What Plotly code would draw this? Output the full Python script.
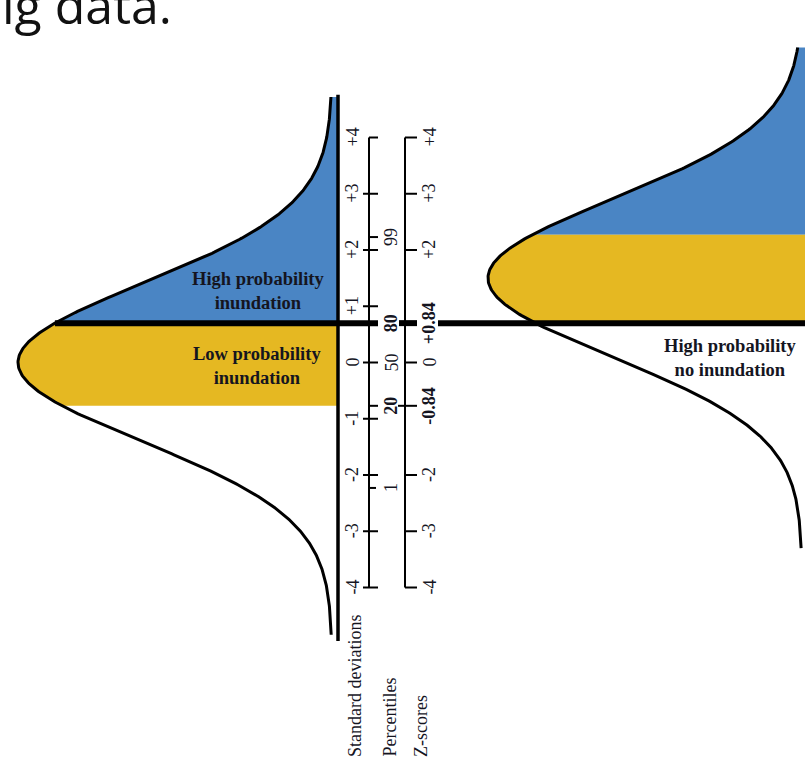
import numpy as np
import plotly.graph_objects as go

# ---------------- data ----------------
sd_ticks = [4, 3, 2, 1, 0, -1, -2, -3, -4]
sd_labels = ["+4", "+3", "+2", "+1", "0", "-1", "-2", "-3", "-4"]

pct_values = ["99", "80", "50", "20", "1"]
pct_pos = [2.23, 0.70, 0.0, -0.77, -2.23]
pct_bold = [False, True, False, True, False]

z_labels = ["+4", "+3", "+2", "+0.84", "0", "-0.84", "-2", "-3", "-4"]
z_pos = [4, 3, 2, 0.70, 0, -0.77, -2, -3, -4]
z_bold = [False, False, False, True, False, True, False, False, False]

# thresholds (on the standard-deviation scale)
thr_low = -0.77     # 20th percentile mark
thr_high = 0.70     # 80th percentile mark
thr_right = 2.27    # upper boundary of right yellow band

# the two distributions (mean, sd, extent on the SD scale)
left_mean, left_sd, left_lo, left_hi = 0.0, 1.40, -4.84, 4.72
right_mean, right_sd, right_lo, right_hi = 1.50, 1.40, -3.30, 5.60

# ---------------- layout constants ----------------
W, H = 805, 759
PX_PER_SD = 56.25
Z0_PX = 362.5
Y_TOP = Z0_PX / PX_PER_SD
Y_BOT = -(H - Z0_PX) / PX_PER_SD

AMP = 314
LEFT_BASE = 332      # asymptote of left curve
LEFT_AXIS = 338      # SD axis line
RIGHT_BASE = 802
PCT_AXIS = 369
Z_AXIS = 405

BLUE = "#4A85C4"
YELLOW = "#E5B822"
TXT = "#15151f"
SERIF = "Liberation Serif, Times New Roman, serif"


def dens(z, m, s):
    return np.exp(-0.5 * ((z - m) / s) ** 2)


def left_x(z):
    return LEFT_BASE - AMP * dens(z, left_mean, left_sd)


def right_x(z):
    return RIGHT_BASE - AMP * dens(z, right_mean, right_sd)


fig = go.Figure()

# ---- fills ----
zb = np.linspace(thr_high, left_hi, 200)
fig.add_trace(go.Scatter(x=np.r_[left_x(zb), LEFT_AXIS, LEFT_AXIS], y=np.r_[zb, left_hi, thr_high],
                         fill="toself", fillcolor=BLUE, line=dict(width=0), mode="lines", hoverinfo="skip"))
zy = np.linspace(thr_low, thr_high, 200)
fig.add_trace(go.Scatter(x=np.r_[left_x(zy), LEFT_AXIS, LEFT_AXIS], y=np.r_[zy, thr_high, thr_low],
                         fill="toself", fillcolor=YELLOW, line=dict(width=0), mode="lines", hoverinfo="skip"))
zrb = np.linspace(thr_right, right_hi, 200)
fig.add_trace(go.Scatter(x=np.r_[right_x(zrb), W + 10, W + 10], y=np.r_[zrb, right_hi, thr_right],
                         fill="toself", fillcolor=BLUE, line=dict(width=0), mode="lines", hoverinfo="skip"))
zry = np.linspace(thr_high, thr_right, 200)
fig.add_trace(go.Scatter(x=np.r_[right_x(zry), W + 10, W + 10], y=np.r_[zry, thr_right, thr_high],
                         fill="toself", fillcolor=YELLOW, line=dict(width=0), mode="lines", hoverinfo="skip"))

# ---- thick threshold line ----
fig.add_trace(go.Scatter(
    x=[float(left_x(thr_high)), 378, None, 399, 417, None, 438, W + 10],
    y=[thr_high, thr_high, None, thr_high, thr_high, None, thr_high, thr_high],
    mode="lines", line=dict(color="black", width=6), hoverinfo="skip"))

# ---- curves ----
zl = np.linspace(left_lo, left_hi, 500)
fig.add_trace(go.Scatter(x=left_x(zl), y=zl, mode="lines", line=dict(color="black", width=3), hoverinfo="skip"))
zr = np.linspace(right_lo, right_hi, 500)
fig.add_trace(go.Scatter(x=right_x(zr), y=zr, mode="lines", line=dict(color="black", width=3), hoverinfo="skip"))

# ---- SD axis line ----
fig.add_trace(go.Scatter(x=[LEFT_AXIS, LEFT_AXIS], y=[4.76, -4.95], mode="lines",
                         line=dict(color="black", width=3.5), hoverinfo="skip"))

# ---- percentile & z axes with ticks ----
tx, ty = [], []
def seg(x0, x1, y):
    tx.extend([x0, x1, None]); ty.extend([y, y, None])

tx.extend([PCT_AXIS, PCT_AXIS, None]); ty.extend([4, -4, None])
tx.extend([Z_AXIS, Z_AXIS, None]); ty.extend([4, -4, None])
for v in sd_ticks:
    if v == 4:
        seg(PCT_AXIS, 378, v)
    else:
        seg(363, 378, v)
for lab_, p in zip(pct_values, pct_pos):
    if lab_ in ("99", "20"):
        seg(PCT_AXIS, 378, p)
    elif lab_ == "1":
        seg(PCT_AXIS, 376, p)
for lab_, p in zip(z_labels, z_pos):
    if lab_ == "+0.84":
        continue
    if lab_ == "-0.84":
        seg(398, 417, p)
    else:
        seg(Z_AXIS, 417, p)
fig.add_trace(go.Scatter(x=tx, y=ty, mode="lines", line=dict(color="black", width=2), hoverinfo="skip"))

# ---- tick labels ----
def lab(x, y, text, bold=False, size=18):
    fig.add_annotation(x=x, y=y, xref="x", yref="y", text=f"<b>{text}</b>" if bold else text,
                       textangle=-90, showarrow=False, font=dict(family=SERIF, size=size, color=TXT),
                       xanchor="center", yanchor="middle")

for v, t in zip(sd_ticks, sd_labels):
    lab(352, v, t)
for t, p, b in zip(pct_values, pct_pos, pct_bold):
    lab(391, p, t, b)
for t, p, b in zip(z_labels, z_pos, z_bold):
    lab(429, p, t, b)

# ---- axis titles ----
for x, t in [(355, "Standard deviations"), (389, "Percentiles"), (421, "Z-scores")]:
    fig.add_annotation(x=x, y=0.0, xref="x", yref="paper", text=t, textangle=-90, showarrow=False,
                       font=dict(family=SERIF, size=18, color=TXT), xanchor="center", yanchor="bottom")

# ---- region labels ----
def region(x, ypx, text):
    fig.add_annotation(x=x, y=(Z0_PX - ypx) / PX_PER_SD, xref="x", yref="y", text=text, showarrow=False,
                       font=dict(family=SERIF, size=18.5, color=TXT), align="center")

region(258, 291, "<b>High probability<br>inundation</b>")
region(257, 366, "<b>Low probability<br>inundation</b>")
region(730, 358, "<b>High probability<br>no inundation</b>")

# ---- slide title fragment ----
fig.add_annotation(x=0, y=0.994, xref="paper", yref="paper", text="ig data.", showarrow=False,
                   xanchor="left", yanchor="middle",
                   font=dict(family="Open Sans, sans-serif", size=50, color="#111111"))

fig.update_layout(
    width=W, height=H, margin=dict(l=0, r=0, t=0, b=0),
    paper_bgcolor="white", plot_bgcolor="white", showlegend=False,
    xaxis=dict(range=[0, W], visible=False, fixedrange=True),
    yaxis=dict(range=[Y_BOT, Y_TOP], visible=False, fixedrange=True),
)

fig.write_html("out.html", config={"displayModeBar": False},
               post_script="document.body.style.margin='0';document.body.style.overflow='hidden';")
